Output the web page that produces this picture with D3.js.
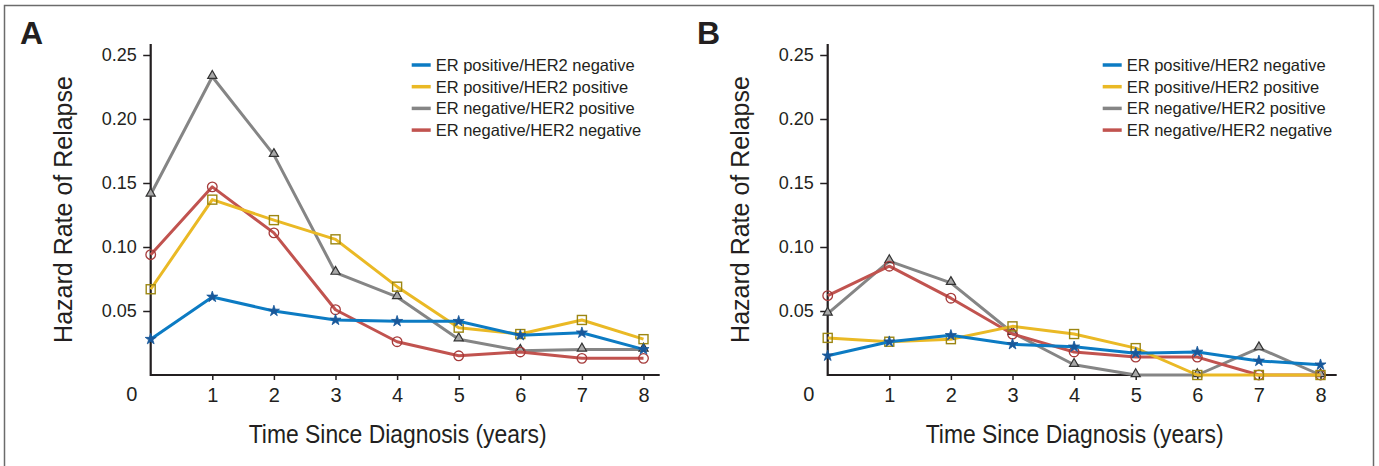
<!DOCTYPE html>
<html>
<head>
<meta charset="utf-8">
<script src="https://cdn.jsdelivr.net/npm/d3@7"></script>
<style>
  body { margin: 0; background: #fff; }
  text { font-family: "Liberation Sans", Arial, Helvetica, sans-serif; fill: #231f20; }
  .narrow { font-family: "Liberation Sans Narrow", "Arial Narrow", "Liberation Sans", sans-serif; }
</style>
</head>
<body>
<div id="chart"></div>
<script>
// Years since diagnosis
const years = [0, 1, 2, 3, 4, 5, 6, 7, 8];
const seriesNames = ["ER positive/HER2 negative", "ER positive/HER2 positive",
                     "ER negative/HER2 positive", "ER negative/HER2 negative"];
const yTicks = [0.05, 0.10, 0.15, 0.20, 0.25];
const xTicks = [1, 2, 3, 4, 5, 6, 7, 8];

// Panel A hazard rates
const aErPosHer2Neg = [0.028, 0.061, 0.050, 0.043, 0.042, 0.042, 0.031, 0.033, 0.020];
const aErPosHer2Pos = [0.067, 0.137, 0.121, 0.106, 0.069, 0.037, 0.032, 0.043, 0.028];
const aErNegHer2Pos = [0.141, 0.233, 0.172, 0.080, 0.061, 0.028, 0.019, 0.020, 0.020];
const aErNegHer2Neg = [0.094, 0.147, 0.111, 0.051, 0.026, 0.015, 0.018, 0.013, 0.013];

// Panel B hazard rates
const bErPosHer2Neg = [0.015, 0.026, 0.031, 0.024, 0.022, 0.017, 0.018, 0.011, 0.008];
const bErPosHer2Pos = [0.029, 0.026, 0.028, 0.038, 0.032, 0.021, 0.000, 0.000, 0.000];
const bErNegHer2Pos = [0.048, 0.089, 0.072, 0.033, 0.008, 0.000, 0.000, 0.021, 0.000];
const bErNegHer2Neg = [0.062, 0.085, 0.060, 0.032, 0.018, 0.014, 0.014, 0.000, 0.000];

const lineColors = ["#0c7bc3", "#eab925", "#858585", "#c1534f"];
const markColors = ["#18589a", "#9c8612", "#333333", "#a53a3a"];

const W = 1379, H = 466;
const svg = d3.select("#chart").append("svg")
    .attr("width", W)
    .attr("height", H);

// outer frame
svg.append("rect")
    .attr("x", 4.5).attr("y", 5.5)
    .attr("width", 1369).attr("height", 470)
    .attr("fill", "none")
    .attr("stroke", "#6b6b6b")
    .attr("stroke-width", 1.5);

const panels = [
  {label: "A", left: 150.7, legendX: 411.7,
   values: [aErPosHer2Neg, aErPosHer2Pos, aErNegHer2Pos, aErNegHer2Neg]},
  {label: "B", left: 827.7, legendX: 1102.7,
   values: [bErPosHer2Neg, bErPosHer2Pos, bErNegHer2Pos, bErNegHer2Neg]}
];

const y = d3.scaleLinear().domain([0, 0.25]).range([375, 55]);
const drawOrder = [2, 3, 1, 0];

function marker(g, i, cx, cy) {
  if (i === 0) {
    g.append("path")
      .attr("d", d3.symbol(d3.symbolStar, 38)())
      .attr("transform", `translate(${cx},${cy})`)
      .attr("fill", markColors[0]).attr("stroke", markColors[0]).attr("stroke-width", 0.8);
  } else if (i === 1) {
    g.append("rect")
      .attr("x", cx - 4.5).attr("y", cy - 4.5)
      .attr("width", 9).attr("height", 9)
      .attr("fill", "none").attr("stroke", markColors[1]).attr("stroke-width", 1.4);
  } else if (i === 2) {
    g.append("path")
      .attr("d", d3.symbol(d3.symbolTriangle, 36)())
      .attr("transform", `translate(${cx},${cy - 1})`)
      .attr("fill", "#a8a8a8").attr("stroke", markColors[2]).attr("stroke-width", 1.2);
  } else {
    g.append("circle")
      .attr("cx", cx).attr("cy", cy).attr("r", 4.8)
      .attr("fill", "none").attr("stroke", markColors[3]).attr("stroke-width", 1.3);
  }
}

panels.forEach(p => {
  const x = d3.scaleLinear().domain([0, 8]).range([p.left, p.left + 492.8]);

  // panel letter
  svg.append("text")
    .attr("x", p.label === "A" ? 20 : 697)
    .attr("y", 44)
    .attr("font-size", 32)
    .attr("font-weight", "bold")
    .text(p.label);

  // y axis
  const yAxis = svg.append("g")
      .attr("transform", `translate(${p.left},0)`)
      .call(d3.axisLeft(y).tickValues(yTicks).tickFormat(d3.format(".2f"))
            .tickSize(7.5).tickPadding(6.5).tickSizeOuter(0));
  yAxis.select(".domain").remove();
  yAxis.selectAll(".tick line").attr("stroke", "#231f20").attr("stroke-width", 1.5);
  yAxis.selectAll("text").attr("font-size", 18).attr("font-family", null).style("fill", "#231f20");

  // x axis
  const xAxis = svg.append("g")
      .attr("transform", "translate(0,375)")
      .call(d3.axisBottom(x).tickValues(xTicks).tickFormat(d3.format("d"))
            .tickSize(5).tickPadding(7.5).tickSizeOuter(0));
  xAxis.select(".domain").remove();
  xAxis.selectAll(".tick line").attr("stroke", "#231f20").attr("stroke-width", 1.5);
  xAxis.selectAll("text").attr("class", "narrow").attr("font-size", 20)
      .attr("font-family", null).style("fill", "#231f20");

  // axis lines
  svg.append("path")
    .attr("d", `M${p.left},44V375H${p.left + 509}`)
    .attr("fill", "none")
    .attr("stroke", "#231f20")
    .attr("stroke-width", 2.2);

  // origin label
  svg.append("text")
    .attr("class", "narrow")
    .attr("x", x(0) - 19)
    .attr("y", 401)
    .attr("text-anchor", "middle")
    .attr("font-size", 20)
    .text("0");

  // axis titles
  svg.append("text")
    .attr("transform", `translate(${p.left - 79},${(44 + 375) / 2}) rotate(-90)`)
    .attr("text-anchor", "middle")
    .attr("font-size", 25)
    .text("Hazard Rate of Relapse");

  svg.append("text")
    .attr("class", "narrow")
    .attr("x", p.left + 247)
    .attr("y", 443)
    .attr("text-anchor", "middle")
    .attr("font-size", 26)
    .attr("textLength", 298)
    .attr("lengthAdjust", "spacingAndGlyphs")
    .text("Time Since Diagnosis (years)");

  // series
  const line = d3.line()
      .x((d, i) => x(years[i]))
      .y(d => y(d));

  drawOrder.forEach(i => {
    const g = svg.append("g");
    g.append("path")
      .datum(p.values[i])
      .attr("fill", "none")
      .attr("stroke", lineColors[i])
      .attr("stroke-width", 3)
      .attr("stroke-linejoin", "round")
      .attr("d", line);
    p.values[i].forEach((v, k) => marker(g, i, x(years[k]), y(v)));
  });

  // legend
  const legend = svg.append("g");
  seriesNames.forEach((name, i) => {
    const ly = 65 + i * 21.7;
    legend.append("line")
      .attr("x1", p.legendX).attr("x2", p.legendX + 19)
      .attr("y1", ly).attr("y2", ly)
      .attr("stroke", lineColors[i])
      .attr("stroke-width", 3.5);
    legend.append("text")
      .attr("x", p.legendX + 24)
      .attr("y", ly)
      .attr("dy", "0.36em")
      .attr("font-size", 16.5)
      .text(name);
  });
});
</script>
</body>
</html>
